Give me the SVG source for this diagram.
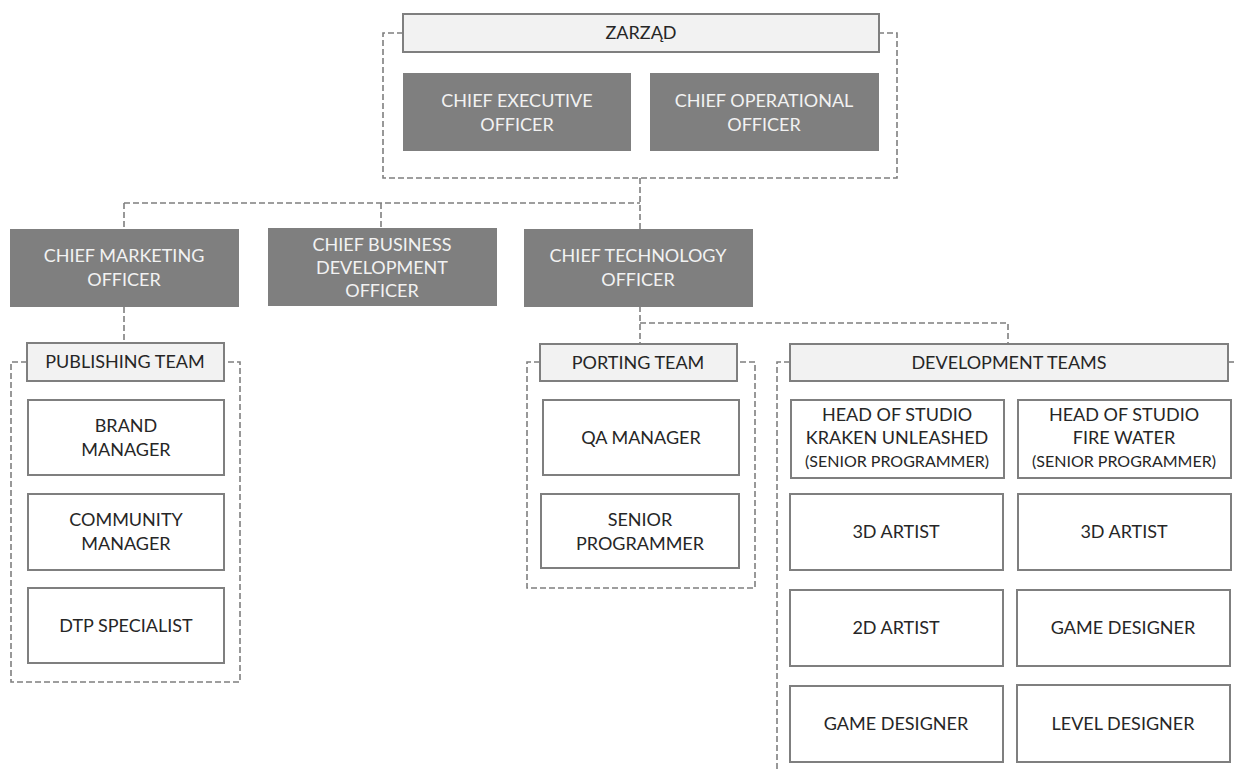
<svg xmlns="http://www.w3.org/2000/svg" width="1237" height="772" viewBox="0 0 1237 772">
  <style>
    text { font-family: Lato, "Liberation Sans", sans-serif; font-size: 18px; text-anchor: middle; }
    .dark rect { fill: #7f7f7f; stroke: none; }
    .dark text { fill: #f2f2f2; }
    .head rect { fill: #f2f2f2; stroke: #7f7f7f; stroke-width: 2; }
    .head text { fill: #262626; }
    .role rect { fill: #ffffff; stroke: #7f7f7f; stroke-width: 2; }
    .role text { fill: #262626; }
    .small { font-size: 16px; }
    #connectors path { fill: none; stroke: #7f7f7f; stroke-width: 1.6; stroke-dasharray: 6 3; }
  </style>
  <rect width="1237" height="772" fill="#ffffff"/>

  <g id="connectors">
    <!-- board bracket -->
    <path d="M403 33 H383 V178 H897 V33 H879"/>
    <!-- board to officers -->
    <path d="M640 178 V229"/>
    <path d="M124 203 H640"/>
    <path d="M124 203 V229"/>
    <path d="M381 203 V228"/>
    <!-- CMO to publishing -->
    <path d="M124 307 V343"/>
    <!-- CTO to porting / development -->
    <path d="M640 306 V344"/>
    <path d="M640 323 H1008 V344"/>
    <!-- team brackets -->
    <path d="M27 362 H11 V682 H240 V362 H223"/>
    <path d="M540 362 H527 V588 H755 V362 H737"/>
    <path d="M790 362 H777 V772"/>
    <path d="M1228 362 H1237"/>
  </g>

  <g id="zarzad" class="head">
    <rect x="403" y="14" width="476" height="38"/>
    <text x="641" y="39">ZARZĄD</text>
  </g>
  <g id="ceo" class="dark">
    <rect x="403" y="73" width="228" height="78"/>
    <text x="517" y="107">CHIEF EXECUTIVE</text>
    <text x="517" y="131">OFFICER</text>
  </g>
  <g id="coo" class="dark">
    <rect x="650" y="73" width="229" height="78"/>
    <text x="764" y="107">CHIEF OPERATIONAL</text>
    <text x="764" y="131">OFFICER</text>
  </g>

  <g id="cmo" class="dark">
    <rect x="10" y="229" width="229" height="78"/>
    <text x="124" y="262">CHIEF MARKETING</text>
    <text x="124" y="286">OFFICER</text>
  </g>
  <g id="cbdo" class="dark">
    <rect x="268" y="228" width="229" height="78"/>
    <text x="382" y="251">CHIEF BUSINESS</text>
    <text x="382" y="274">DEVELOPMENT</text>
    <text x="382" y="297">OFFICER</text>
  </g>
  <g id="cto" class="dark">
    <rect x="524" y="229" width="229" height="78"/>
    <text x="638" y="262">CHIEF TECHNOLOGY</text>
    <text x="638" y="286">OFFICER</text>
  </g>

  <g id="publishing-team" class="head">
    <rect x="27" y="343" width="197" height="38"/>
    <text x="125" y="368">PUBLISHING TEAM</text>
  </g>
  <g id="brand-manager" class="role">
    <rect x="28" y="400" width="196" height="75"/>
    <text x="126" y="432">BRAND</text>
    <text x="126" y="456">MANAGER</text>
  </g>
  <g id="community-manager" class="role">
    <rect x="28" y="494" width="196" height="76"/>
    <text x="126" y="526">COMMUNITY</text>
    <text x="126" y="550">MANAGER</text>
  </g>
  <g id="dtp-specialist" class="role">
    <rect x="28" y="588" width="196" height="75"/>
    <text x="126" y="632">DTP SPECIALIST</text>
  </g>

  <g id="porting-team" class="head">
    <rect x="540" y="344" width="197" height="37"/>
    <text x="638" y="369">PORTING TEAM</text>
  </g>
  <g id="qa-manager" class="role">
    <rect x="543" y="400" width="196" height="75"/>
    <text x="641" y="444">QA MANAGER</text>
  </g>
  <g id="porting-senior-programmer" class="role">
    <rect x="541" y="494" width="198" height="74"/>
    <text x="640" y="526">SENIOR</text>
    <text x="640" y="550">PROGRAMMER</text>
  </g>

  <g id="development-teams" class="head">
    <rect x="790" y="344" width="438" height="37"/>
    <text x="1009" y="369">DEVELOPMENT TEAMS</text>
  </g>
  <g id="head-kraken" class="role">
    <rect x="791" y="400" width="213" height="78"/>
    <text x="897" y="421">HEAD OF STUDIO</text>
    <text x="897" y="444">KRAKEN UNLEASHED</text>
    <text x="897" y="467" class="small">(SENIOR PROGRAMMER)</text>
  </g>
  <g id="head-firewater" class="role">
    <rect x="1018" y="400" width="213" height="78"/>
    <text x="1124" y="421">HEAD OF STUDIO</text>
    <text x="1124" y="444">FIRE WATER</text>
    <text x="1124" y="467" class="small">(SENIOR PROGRAMMER)</text>
  </g>
  <g id="kraken-3d-artist" class="role">
    <rect x="790" y="494" width="213" height="76"/>
    <text x="896" y="538">3D ARTIST</text>
  </g>
  <g id="firewater-3d-artist" class="role">
    <rect x="1018" y="494" width="213" height="76"/>
    <text x="1124" y="538">3D ARTIST</text>
  </g>
  <g id="kraken-2d-artist" class="role">
    <rect x="790" y="590" width="213" height="76"/>
    <text x="896" y="634">2D ARTIST</text>
  </g>
  <g id="firewater-game-designer" class="role">
    <rect x="1017" y="590" width="213" height="76"/>
    <text x="1123" y="634">GAME DESIGNER</text>
  </g>
  <g id="kraken-game-designer" class="role">
    <rect x="790" y="686" width="213" height="76"/>
    <text x="896" y="730">GAME DESIGNER</text>
  </g>
  <g id="level-designer" class="role">
    <rect x="1017" y="685" width="213" height="77"/>
    <text x="1123" y="730">LEVEL DESIGNER</text>
  </g>
</svg>
